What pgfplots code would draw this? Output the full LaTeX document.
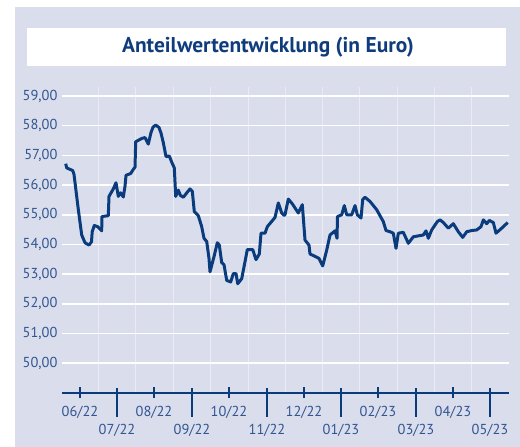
\documentclass[border=0pt]{standalone}
\usepackage{fontspec}
\setmainfont{PT Sans}
\usepackage{pgfplots}
\pgfplotsset{compat=1.18}
\definecolor{bgl}{RGB}{218,222,236}
\definecolor{lineblue}{RGB}{10,60,125}
\definecolor{labelblue}{RGB}{50,85,145}
\definecolor{titleblue}{RGB}{15,60,125}
\begin{document}
\begin{tikzpicture}[x=1bp,y=1bp]
\path[use as bounding box] (0,0) rectangle (520,447);
\fill[white] (0,0) rectangle (520,447);
\fill[bgl] (15,0) rectangle (520,439.7);
\fill[white] (26.7,381.3) rectangle (506,418.7);
\node[anchor=base,text=titleblue,font=\fontsize{21.5}{21.5}\selectfont\bfseries] at (268,394) {Anteilwertentwicklung (in Euro)};
\begin{axis}[
  at={(62bp,54bp)}, anchor=south west,
  scale only axis, width=447bp, height=305.9bp,
  xmin=62, xmax=509, ymin=49, ymax=59.3,
  separate axis lines,
  axis x line*=bottom,
  x axis line style={draw=lineblue, line width=2bp, -},
  axis y line*=left,
  y axis line style={draw=none},
  ytick={50,51,...,59},
  ytick style={draw=none},
  ymajorgrids,
  major grid style={white, line width=1.6bp},
  minor xtick={98.5,135.5,173,210.5,248,285.5,322.5,359.5,397,434.5,471.5},
  xminorgrids,
  minor grid style={white, opacity=0.45, line width=1bp},
  minor tick length=0pt,
  xtick={80,154,229,304,378,453},
  xticklabels={06/22,08/22,10/22,12/22,02/23,04/23},
  extra x ticks={117,192,267,341,416,490},
  extra x tick labels={07/22,09/22,11/22,01/23,03/23,05/23},
  xtick align=center,
  major tick length=11bp,
  xtick style={draw=lineblue, line width=1.8bp},
  xticklabel style={yshift=-4bp},
  extra x tick style={major tick length=29bp, xtick style={draw=lineblue, line width=1.8bp, yshift=-9.5bp}, xticklabel style={yshift=-9bp}},
  tick label style={font=\fontsize{14.5}{14.5}\selectfont, text=labelblue},
  yticklabel style={xshift=-1bp},
  y tick label style={/pgf/number format/.cd, use comma, fixed, fixed zerofill, precision=2, 1000 sep={}, assume math mode=true},
  clip=false,
]
\addplot[lineblue, line width=3bp, line join=round] coordinates {
(65.7,56.72) (66.7,56.58) (72.7,56.49) (74,56.36) (78.3,55.18) (81.7,54.32) (85,54.06) (89,53.98) (91.5,54.09) (92.2,54.43) (94.3,54.64) (97.7,54.6) (101.7,54.46) (101.9,54.94) (108.3,54.97) (109,55.62) (113.3,55.87) (116,56.08) (118.3,55.62) (120.7,55.74) (123.3,55.6) (125,55.96) (126,56.33) (130.7,56.39) (133.3,56.53) (135,56.6) (135.7,57.46) (141.7,57.57) (145,57.6) (148.3,57.38) (151,57.77) (153,57.95) (155.7,58.02) (159,57.94) (161,57.75) (163.3,57.43) (166,56.96) (169.3,56.98) (172,56.75) (174.3,56.58) (175.7,55.62) (178.3,55.83) (180.5,55.65) (183.3,55.59) (187,55.75) (190,55.87) (192.3,55.79) (194.3,55.11) (198.3,54.97) (201.7,54.6) (204,54.21) (206.7,54.1) (209,53.53) (210,53.08) (214,53.59) (217.3,54.06) (219.3,53.98) (221.7,53.39) (224,53.32) (226.7,52.79) (230.7,52.74) (233.3,53.02) (236,53.02) (237.7,52.68) (241.7,52.85) (245,53.42) (247.3,53.83) (252.7,53.83) (256,53.49) (259.3,53.68) (261,54.38) (265,54.38) (267.3,54.6) (275,54.91) (278.3,55.4) (281.7,55.06) (284,54.98) (285,55.0) (288.3,55.53) (292.3,55.37) (298.3,55.06) (302.3,55.34) (305,54.15) (309,53.98) (310,53.68) (315.7,53.59) (319,53.53) (322.7,53.28) (326.7,53.81) (330,54.32) (335,54.46) (337,54.21) (337.5,54.94) (341.7,55.0) (344.3,55.31) (346.7,55.0) (351.7,55.0) (355,55.31) (357.3,55.0) (361,54.89) (362.7,55.51) (365,55.59) (370,55.45) (376.7,55.17) (383.3,54.77) (386,54.47) (390,54.43) (393.3,54.38) (396,53.87) (398.3,54.38) (403.3,54.41) (408.3,54.04) (413.3,54.26) (420,54.3) (423.3,54.32) (426,54.46) (428.3,54.21) (431.7,54.49) (437.3,54.77) (440,54.83) (443.3,54.74) (448.3,54.55) (453.3,54.7) (458.3,54.43) (462.7,54.24) (466.7,54.43) (471.7,54.47) (476.7,54.49) (481,54.6) (483.3,54.83) (486.7,54.7) (489.3,54.81) (493.3,54.74) (496,54.38) (501.7,54.55) (507.7,54.74)
};
\end{axis}
\end{tikzpicture}
\end{document}
